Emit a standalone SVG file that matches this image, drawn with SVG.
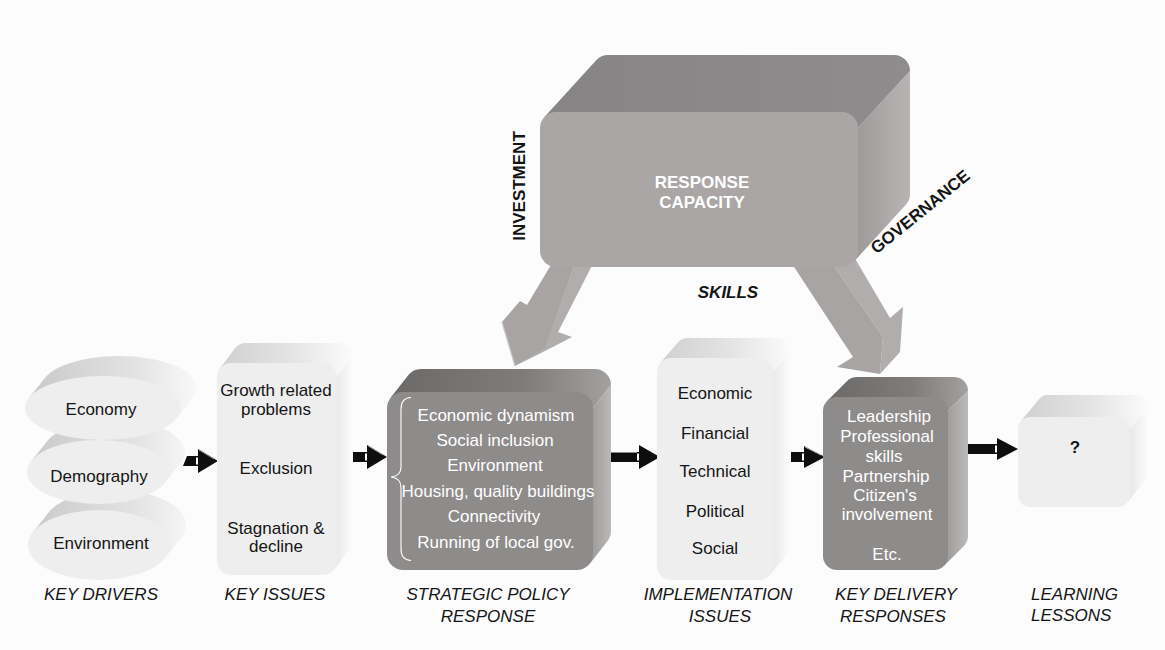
<svg xmlns="http://www.w3.org/2000/svg" width="1165" height="650" viewBox="0 0 1165 650">
  <style>
    text { font-family: "Liberation Sans", Arial, sans-serif; font-size: 17px; }
    .c { text-anchor: middle; }
    .dk { fill: #151515; }
    .wt { fill: #ffffff; }
    .b { font-weight: bold; }
    .lbl { font-style: italic; fill: #151515; text-anchor: middle; }
    .lblL { font-style: italic; fill: #151515; text-anchor: start; }
    .lightFront { fill: #eeeeee; }
    .darkFront { fill: #8e8b8b; }
    .lightTop { fill: url(#gLightTop); }
    .lightSide { fill: url(#gLightSide); }
    .darkTop { fill: url(#gDarkTop); }
    .darkSide { fill: url(#gDarkSide); }
    .blk { fill: #0e0e0e; }
    .notch { fill: #ffffff; }
    .bigFront { fill: #a7a4a3; }
    .bigSide { fill: #b0adac; }
  </style>
  <defs>
    <linearGradient id="gLightTop" x1="0" y1="0" x2="1" y2="0">
      <stop offset="0" stop-color="#d0d0d0"/>
      <stop offset="0.55" stop-color="#e4e4e4"/>
      <stop offset="1" stop-color="#fbfbfb"/>
    </linearGradient>
    <linearGradient id="gLightSide" x1="0" y1="0" x2="1" y2="0">
      <stop offset="0" stop-color="#e6e6e6"/>
      <stop offset="1" stop-color="#fbfbfb"/>
    </linearGradient>
    <linearGradient id="gDarkTop" x1="0" y1="0" x2="1" y2="0">
      <stop offset="0" stop-color="#6c6969"/>
      <stop offset="0.6" stop-color="#7e7b7b"/>
      <stop offset="1" stop-color="#a3a0a0"/>
    </linearGradient>
    <linearGradient id="gDarkSide" x1="0" y1="0" x2="1" y2="0">
      <stop offset="0" stop-color="#9b9898"/>
      <stop offset="1" stop-color="#bcb9b9"/>
    </linearGradient>
    <linearGradient id="gCapTop" x1="0" y1="0" x2="1" y2="0">
      <stop offset="0" stop-color="#878485"/>
      <stop offset="1" stop-color="#8f8c8d"/>
    </linearGradient>
    <linearGradient id="gCapSide" x1="0" y1="0" x2="1" y2="0">
      <stop offset="0" stop-color="#9c9999"/>
      <stop offset="1" stop-color="#b7b4b3"/>
    </linearGradient>
    <linearGradient id="gDrum" gradientUnits="userSpaceOnUse" x1="30" y1="0" x2="200" y2="0">
      <stop offset="0" stop-color="#c9c9c9"/>
      <stop offset="0.6" stop-color="#e2e2e2"/>
      <stop offset="1" stop-color="#fafafa"/>
    </linearGradient>
  </defs>

  <rect width="1165" height="650" fill="#fcfcfc"/>

  <!-- connectors: block arrows between the stages and the two capacity arrows -->
  <g id="connectors">
    <!-- capacity arrow to strategic policy response -->
    <polygon class="bigSide" points="580,250 600,250 558,332 572,337 545,351 515,366 545,347"/>
    <polygon class="bigFront" points="560,250 527,305 520,301 502,322 515,366 545,348 580,250"/>
    <line x1="502" y1="322" x2="515" y2="366" stroke="#c9c6c5" stroke-width="1.2"/>
    <!-- capacity arrow to key delivery responses -->
    <polygon class="bigSide" points="823,250 883,337 880,374 900,352 903,307 890,318 850,250"/>
    <polygon class="bigFront" points="783,250 853,357 837,367 880,374 883,337 823,250"/>

    <!-- key drivers to key issues -->
    <g id="arrow-drivers-issues">
      <polygon class="blk" points="183,466 187,456 198,456 198,449 218,461 198,473 198,466"/>
      <rect class="notch" x="196" y="457.5" width="2" height="7"/>
      <line x1="199" y1="450" x2="214" y2="459" stroke="#8a8a8a" stroke-width="1"/>
    </g>
    <!-- key issues to strategic policy response -->
    <g id="arrow-issues-policy">
      <polygon class="blk" points="353,452 367,452 367,445 387,457 367,469 367,462 353,462"/>
      <rect class="notch" x="365" y="453.5" width="2" height="7"/>
      <line x1="368" y1="446" x2="383" y2="455" stroke="#8a8a8a" stroke-width="1"/>
    </g>
    <!-- strategic policy response to implementation issues -->
    <g id="arrow-policy-implementation">
      <polygon class="blk" points="605,452 639,452 639,445 660,457 639,469 639,462 605,462"/>
      <rect class="notch" x="637" y="453.5" width="2" height="7"/>
      <line x1="605" y1="452.5" x2="637" y2="452.5" stroke="#8a8a8a" stroke-width="1"/>
    </g>
    <!-- implementation issues to key delivery responses -->
    <g id="arrow-implementation-delivery">
      <polygon class="blk" points="791,452 804,452 804,446 825,457 804,468 804,462 791,462"/>
      <rect class="notch" x="802" y="453.5" width="2" height="7"/>
      <line x1="805" y1="447" x2="821" y2="455" stroke="#bdbdbd" stroke-width="1"/>
    </g>
    <!-- key delivery responses to learning lessons -->
    <g id="arrow-delivery-learning">
      <polygon class="blk" points="965,444 997,444 997,438 1018,449 997,460 997,454 965,454"/>
      <rect class="notch" x="995" y="445.5" width="2" height="7"/>
    </g>
  </g>

  <!-- response capacity block -->
  <g id="response-capacity">
    <path fill="url(#gCapTop)" d="M544.2,117.2 L596.2,60.2 A16,16 0 0 1 608,55 L894,55 A16,16 0 0 1 910,71 L858,128 L556,112 Z"/>
    <path fill="url(#gCapSide)" d="M910,71 L910,194 A16,16 0 0 1 905.8,204.8 L853.8,261.8 L858,251 L858,128 Z"/>
    <rect x="540" y="112" width="318" height="155" rx="16" fill="#a9a6a5"/>
    <text class="c wt b" x="702" y="188">RESPONSE</text>
    <text class="c wt b" x="702" y="208">CAPACITY</text>
  </g>
  <g id="capacity-labels">
    <text class="c dk b" transform="translate(525,186) rotate(-90)">INVESTMENT</text>
    <text class="c dk b" transform="translate(923.8,216.2) rotate(-39)">GOVERNANCE</text>
    <text class="c dk b" x="728" y="298" font-style="italic">SKILLS</text>
  </g>

  <!-- key drivers: three stacked discs -->
  <g id="driver-environment">
    <g fill="url(#gDrum)">
      <ellipse cx="115" cy="525" rx="71" ry="35"/>
      <polygon points="32.9,532.2 48.9,512.2 181.1,537.8 165.1,557.8"/>
    </g>
    <ellipse class="lightFront" cx="99" cy="545" rx="71" ry="35"/>
    <text class="c dk" x="101" y="549">Environment</text>
  </g>
  <g id="driver-demography">
    <g fill="url(#gDrum)">
      <ellipse cx="114" cy="452" rx="71" ry="32"/>
      <polygon points="31.2,461.2 47.2,441.2 180.8,462.8 164.8,482.8"/>
    </g>
    <ellipse class="lightFront" cx="98" cy="472" rx="71" ry="32"/>
    <text class="c dk" x="99" y="482">Demography</text>
  </g>
  <g id="driver-economy">
    <g fill="url(#gDrum)">
      <ellipse cx="119" cy="388" rx="78" ry="32"/>
      <polygon points="28.9,398 44.9,378 193.1,398 177.1,418"/>
    </g>
    <ellipse class="lightFront" cx="103" cy="408" rx="78" ry="32"/>
    <text class="c dk" x="101" y="415">Economy</text>
  </g>

  <!-- key issues -->
  <g id="key-issues">
    <path class="lightTop" d="M219.8,368.6 L234.8,348.6 A14,14 0 0 1 246,343 L338,343 A14,14 0 0 1 352,357 L337,377 L231,363 Z"/>
    <path class="lightSide" d="M352,357 L352,541 A14,14 0 0 1 349.2,549.4 L334.2,569.4 L337,561 L337,377 Z"/>
    <rect class="lightFront" x="217" y="363" width="120" height="212" rx="14"/>
    <text class="c dk" x="276" y="396">Growth related</text>
    <text class="c dk" x="276" y="415">problems</text>
    <text class="c dk" x="276" y="474">Exclusion</text>
    <text class="c dk" x="276" y="534">Stagnation &amp;</text>
    <text class="c dk" x="276" y="552">decline</text>
  </g>

  <!-- strategic policy response -->
  <g id="strategic-policy-response">
    <path class="darkTop" d="M390.4,398.1 L408.4,375.1 A16,16 0 0 1 421,369 L595,369 A16,16 0 0 1 611,385 L593,408 L403,392 Z"/>
    <path class="darkSide" d="M611,385 L611,531 A16,16 0 0 1 607.6,540.9 L589.6,563.9 L593,554 L593,408 Z"/>
    <rect class="darkFront" x="387" y="392" width="206" height="178" rx="16"/>
    <path d="M411,397.5 Q401,398 401,409 L401,467 Q401,476 391,477 Q401,478 401,488 L401,549 Q401,560 411,560.5" fill="none" stroke="#ffffff" stroke-width="1.1"/>
    <text class="c wt" x="496" y="421">Economic dynamism</text>
    <text class="c wt" x="495" y="446">Social inclusion</text>
    <text class="c wt" x="495" y="471">Environment</text>
    <text class="c wt" x="498" y="497">Housing, quality buildings</text>
    <text class="c wt" x="494" y="522">Connectivity</text>
    <text class="c wt" x="496" y="548">Running of local gov.</text>
  </g>

  <!-- implementation issues -->
  <g id="implementation-issues">
    <path class="lightTop" d="M660.3,362.9 L677.3,342.9 A14,14 0 0 1 688,338 L776,338 A14,14 0 0 1 790,352 L773,372 L671,358 Z"/>
    <path class="lightSide" d="M790,352 L790,546 A14,14 0 0 1 786.7,555.1 L769.7,575.1 L773,566 L773,372 Z"/>
    <rect class="lightFront" x="657" y="358" width="116" height="222" rx="14"/>
    <text class="c dk" x="715" y="399">Economic</text>
    <text class="c dk" x="715" y="439">Financial</text>
    <text class="c dk" x="715" y="477">Technical</text>
    <text class="c dk" x="715" y="517">Political</text>
    <text class="c dk" x="715" y="554">Social</text>
  </g>

  <!-- key delivery responses -->
  <g id="key-delivery-responses">
    <path class="darkTop" d="M827.1,401.1 L847.1,381.1 A14,14 0 0 1 857,377 L954,377 A14,14 0 0 1 968,391 L948,411 L837,397 Z"/>
    <path class="darkSide" d="M968,391 L968,536 A14,14 0 0 1 963.9,545.9 L943.9,565.9 L948,556 L948,411 Z"/>
    <rect class="darkFront" x="823" y="397" width="125" height="173" rx="14"/>
    <text class="c wt" x="889" y="422">Leadership</text>
    <text class="c wt" x="887" y="442">Professional</text>
    <text class="c wt" x="884" y="462">skills</text>
    <text class="c wt" x="886" y="482">Partnership</text>
    <text class="c wt" x="885" y="501">Citizen's</text>
    <text class="c wt" x="887" y="520">involvement</text>
    <text class="c wt" x="887" y="560">Etc.</text>
  </g>

  <!-- learning lessons -->
  <g id="learning-lessons">
    <path class="lightTop" d="M1020.7,421.4 L1038.7,399.4 A12,12 0 0 1 1048,395 L1136,395 A12,12 0 0 1 1148,407 L1130,429 L1030,417 Z"/>
    <path class="lightSide" d="M1148,407 L1148,473 A12,12 0 0 1 1145.3,480.6 L1127.3,502.6 L1130,495 L1130,429 Z"/>
    <rect class="lightFront" x="1018" y="417" width="112" height="90" rx="12"/>
    <text class="c dk b" x="1075" y="453">?</text>
  </g>

  <!-- stage captions -->
  <g id="captions">
    <text class="lbl" x="101" y="600">KEY DRIVERS</text>
    <text class="lbl" x="275" y="600">KEY ISSUES</text>
    <text class="lbl" x="488" y="600">STRATEGIC POLICY</text>
    <text class="lbl" x="488" y="622">RESPONSE</text>
    <text class="lbl" x="718" y="600">IMPLEMENTATION</text>
    <text class="lbl" x="720" y="622">ISSUES</text>
    <text class="lbl" x="896" y="600">KEY DELIVERY</text>
    <text class="lbl" x="893" y="622">RESPONSES</text>
    <text class="lblL" x="1031" y="600">LEARNING</text>
    <text class="lblL" x="1031" y="621">LESSONS</text>
  </g>
</svg>
